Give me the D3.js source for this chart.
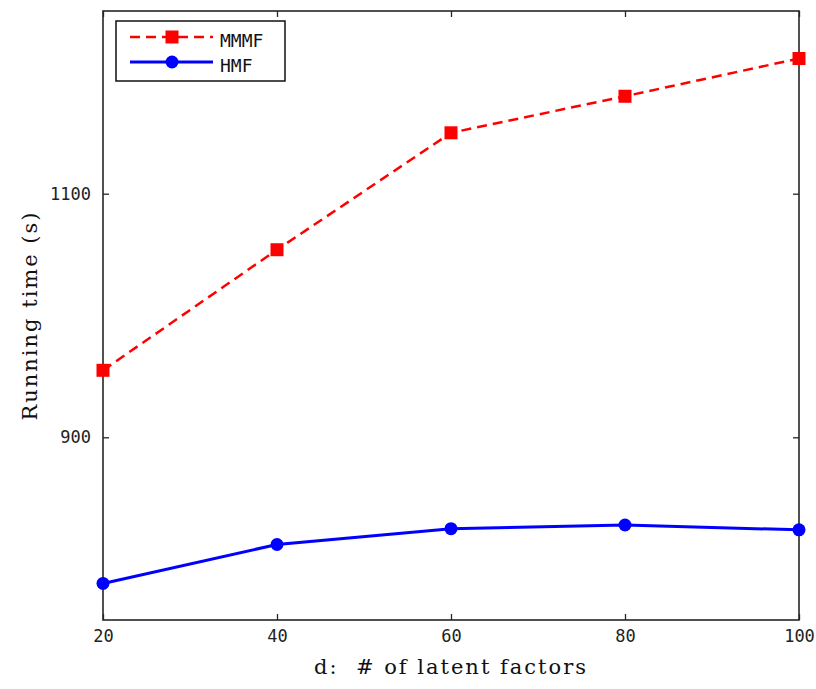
<!DOCTYPE html>
<html>
<head>
<meta charset="utf-8">
<script src="https://cdn.jsdelivr.net/npm/d3@7"></script>
<style>
  html, body { margin: 0; padding: 0; background: #fff; }
  svg { display: block; }
</style>
</head>
<body>
<svg id="chart" width="816" height="689"></svg>
<script>
// ---- data ----
const latentFactors = [20, 40, 60, 80, 100];
const mmmfTime = [955, 1054, 1150, 1180, 1211];
const hmfTime = [780, 812, 825, 828, 824];
const xTickValues = [20, 40, 60, 80, 100];
const yTickValues = [900, 1100];
const seriesNames = ["MMMF", "HMF"];
const xLabel = "d:  # of latent factors";
const yLabel = "Running time (s)";

// ---- layout ----
const svg = d3.select("#chart");
const L = 103, R = 799, T = 11, B = 620;
const x = d3.scaleLinear().domain([20, 100]).range([L, R]);
const y = d3.scaleLinear().domain([750, 1250]).range([B, T]);
const axisColor = "#262626";
const tickFont = "'DejaVu Sans Mono', monospace";
const labelFont = "'DejaVu Serif', serif";

// axes with inward ticks
const gx = svg.append("g").attr("transform", `translate(0,${B})`)
  .call(d3.axisBottom(x).tickValues(xTickValues).tickFormat(d3.format("d")).tickSizeInner(-6).tickSizeOuter(0).tickPadding(9));
const gy = svg.append("g").attr("transform", `translate(${L},0)`)
  .call(d3.axisLeft(y).tickValues(yTickValues).tickFormat(d3.format("d")).tickSizeInner(-6).tickSizeOuter(0).tickPadding(12));
const gxt = svg.append("g").attr("transform", `translate(0,${T})`)
  .call(d3.axisTop(x).tickValues(xTickValues).tickSizeInner(-6).tickSizeOuter(0).tickFormat(""));
const gyr = svg.append("g").attr("transform", `translate(${R},0)`)
  .call(d3.axisRight(y).tickValues(yTickValues).tickSizeInner(-6).tickSizeOuter(0).tickFormat(""));

[gx, gy, gxt, gyr].forEach(g => {
  g.select(".domain").remove();
  g.selectAll(".tick line").attr("stroke", axisColor).attr("stroke-width", 1.3);
  g.selectAll(".tick text").attr("fill", "#222").style("font-family", tickFont).style("font-size", "17px");
});
gx.selectAll(".tick text").attr("dy", "0.75em");

svg.append("rect")
  .attr("x", L).attr("y", T).attr("width", R - L).attr("height", B - T)
  .attr("fill", "none").attr("stroke", axisColor).attr("stroke-width", 1.6);

// axis labels
svg.append("text")
  .attr("x", (L + R) / 2).attr("y", 674)
  .attr("text-anchor", "middle")
  .style("font-family", labelFont).style("font-size", "21px").style("white-space", "pre")
  .style("letter-spacing", "2px")
  .attr("fill", "#111")
  .text(xLabel);
svg.append("text")
  .attr("transform", `translate(37,${(T + B) / 2}) rotate(-90)`)
  .attr("text-anchor", "middle")
  .style("font-family", labelFont).style("font-size", "21px")
  .style("letter-spacing", "2px")
  .attr("fill", "#111")
  .text(yLabel);

// lines
const line = d3.line().x((d, i) => x(latentFactors[i])).y(d => y(d));
svg.append("path").datum(mmmfTime)
  .attr("d", line).attr("fill", "none").attr("stroke", "#ff0000")
  .attr("stroke-width", 2.5).attr("stroke-dasharray", "10,6");
svg.append("path").datum(hmfTime)
  .attr("d", line).attr("fill", "none").attr("stroke", "#0000ff")
  .attr("stroke-width", 3);

const sq = 13;
svg.append("g").selectAll("rect").data(mmmfTime).join("rect")
  .attr("x", (d, i) => x(latentFactors[i]) - sq / 2)
  .attr("y", d => y(d) - sq / 2)
  .attr("width", sq).attr("height", sq).attr("fill", "#ff0000");
svg.append("g").selectAll("circle").data(hmfTime).join("circle")
  .attr("cx", (d, i) => x(latentFactors[i]))
  .attr("cy", d => y(d))
  .attr("r", 6.5).attr("fill", "#0000ff");

// legend
const lg = svg.append("g");
lg.append("rect").attr("x", 116).attr("y", 21).attr("width", 169).attr("height", 60)
  .attr("fill", "#fff").attr("stroke", "#111").attr("stroke-width", 1.5);
const rows = [
  { name: seriesNames[0], color: "#ff0000", dash: "10,6", w: 2.5, marker: "square", ly: 37 },
  { name: seriesNames[1], color: "#0000ff", dash: null, w: 3, marker: "circle", ly: 62 }
];
rows.forEach(r => {
  lg.append("line").attr("x1", 130).attr("x2", 213).attr("y1", r.ly).attr("y2", r.ly)
    .attr("stroke", r.color).attr("stroke-width", r.w)
    .attr("stroke-dasharray", r.dash);
  if (r.marker === "square") {
    lg.append("rect").attr("x", 172 - sq / 2).attr("y", r.ly - sq / 2)
      .attr("width", sq).attr("height", sq).attr("fill", r.color);
  } else {
    lg.append("circle").attr("cx", 172).attr("cy", r.ly).attr("r", 6.5).attr("fill", r.color);
  }
  lg.append("text").attr("x", 220).attr("y", r.ly + 10)
    .style("font-family", tickFont).style("font-size", "18px").attr("fill", "#111")
    .text(r.name);
});
</script>
</body>
</html>
